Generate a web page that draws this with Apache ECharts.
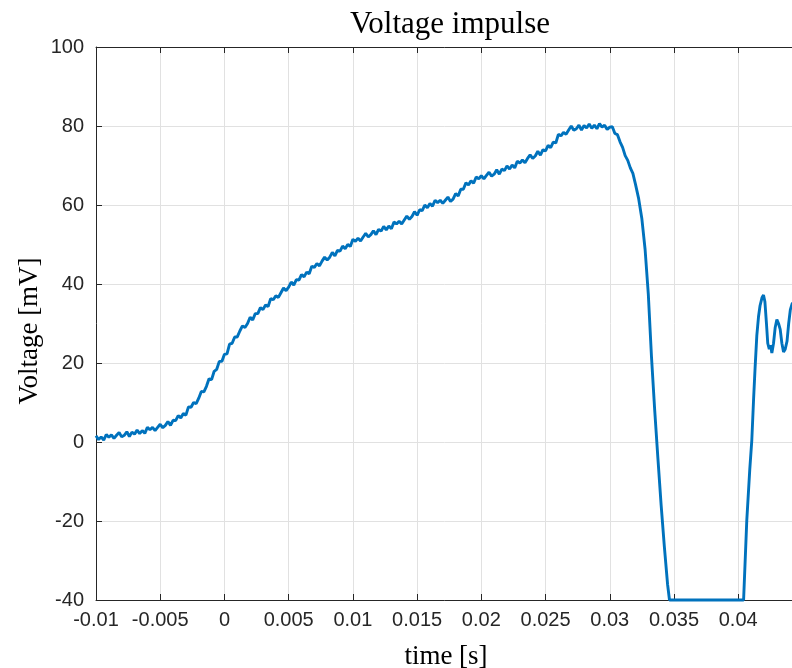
<!DOCTYPE html>
<html>
<head>
<meta charset="utf-8">
<script src="https://cdn.jsdelivr.net/npm/echarts@6/dist/echarts.min.js"></script>
<style>
html,body{margin:0;padding:0;background:#fff;}
#chart{width:792px;height:668px;}
</style>
</head>
<body>
<div id="chart"></div>
<script>
// time in milliseconds (converted to seconds for the axis)
var timeMs = [
-10,-9.8,-9.6,-9.4,-9.2,-9,-8.8,-8.6,-8.4,-8.2,-8,-7.8,-7.6,-7.4,-7.2,-7,-6.8,-6.6,-6.4,-6.2,
-6,-5.8,-5.6,-5.4,-5.2,-5,-4.8,-4.6,-4.4,-4.2,-4,-3.8,-3.6,-3.4,-3.2,-3,-2.8,-2.6,-2.4,-2.2,
-2,-1.8,-1.6,-1.4,-1.2,-1,-0.8,-0.6,-0.4,-0.2,0,0.2,0.4,0.6,0.8,1,1.2,1.4,1.6,1.8,
2,2.2,2.4,2.6,2.8,3,3.2,3.4,3.6,3.8,4,4.2,4.4,4.6,4.8,5,5.2,5.4,5.6,5.8,
6,6.2,6.4,6.6,6.8,7,7.2,7.4,7.6,7.8,8,8.2,8.4,8.6,8.8,9,9.2,9.4,9.6,9.8,
10,10.2,10.4,10.6,10.8,11,11.2,11.4,11.6,11.8,12,12.2,12.4,12.6,12.8,13,13.2,13.4,13.6,13.8,
14,14.2,14.4,14.6,14.8,15,15.2,15.4,15.6,15.8,16,16.2,16.4,16.6,16.8,17,17.2,17.4,17.6,17.8,
18,18.2,18.4,18.6,18.8,19,19.2,19.4,19.6,19.8,20,20.2,20.4,20.6,20.8,21,21.2,21.4,21.6,21.8,
22,22.2,22.4,22.6,22.8,23,23.2,23.4,23.6,23.8,24,24.2,24.4,24.6,24.8,25,25.2,25.4,25.6,25.8,
26,26.2,26.4,26.6,26.8,27,27.2,27.4,27.6,27.8,28,28.2,28.4,28.6,28.8,29,29.2,29.4,29.6,29.8,
30,30.2,30.4,30.6,30.8,31,31.2,31.4,31.6,31.8,32,32.25,32.5,32.75,33,33.25,33.5,33.75,34,34.25,
34.5,34.65,37.5,40.42,40.67,40.9,41.06,41.2,41.32,41.45,41.58,41.7,41.85,41.97,42.08,42.2,42.3,42.42,42.52,42.62,
42.75,42.88,43.01,43.14,43.27,43.4,43.53,43.66,43.8,43.93,44.06,44.2,44.5
];
// voltage in mV
var voltageMv = [
1.6,0.6,1.3,0.5,1.9,1.2,1.8,0.9,1.7,2.4,1.3,1.7,2.6,1.4,2.5,2.0,3.0,2.1,2.9,2.2,
3.7,3.1,3.7,2.9,3.7,4.5,3.6,4.2,5.2,4.2,5.5,5.4,6.7,6.1,7.2,6.8,8.9,8.8,10.0,9.7,
11.1,12.8,12.7,14.1,16.0,15.8,17.9,18.4,20.4,20.4,22.2,22.3,24.8,25.0,26.6,26.6,28.1,29.4,29.0,30.0,
31.6,30.9,32.5,32.5,34.0,33.5,34.7,34.3,36.3,36.0,37.0,36.6,37.8,39.0,38.3,39.2,40.5,39.7,41.1,41.0,
42.4,41.8,43.0,42.6,44.5,44.2,45.2,44.6,45.8,46.8,46.1,46.8,48.0,47.1,48.5,48.3,49.6,48.9,50.0,49.5,
51.3,50.8,51.6,50.9,51.9,52.8,51.9,52.5,53.5,52.5,53.8,53.4,54.6,53.7,54.7,54.0,55.7,55.2,55.9,55.2,
56.2,57.2,56.4,57.1,58.3,57.4,58.8,58.6,60.0,59.3,60.4,59.7,61.2,60.6,61.2,60.4,61.2,62.0,60.9,61.5,
62.9,62.3,64.0,64.0,65.6,65.1,66.1,65.5,67.1,66.6,67.4,66.6,67.5,68.3,67.3,67.8,68.9,67.8,69.1,68.7,
69.9,69.1,70.1,69.4,71.1,70.6,71.4,70.7,71.8,72.7,71.8,72.4,73.6,72.6,74.0,73.7,75.1,74.5,75.9,75.7,
77.9,77.5,78.4,77.9,79.0,80.0,78.9,79.3,80.2,79.0,80.1,79.5,80.5,79.4,80.2,79.3,80.6,79.7,80.2,79.1,
79.7,79.8,78.1,77.8,76.0,74.6,72.5,71.3,69.4,68.0,65.3,61.6,56.5,48.8,37.5,21.5,8.0,-4.2,-16.0,-26.5,
-36.0,-40,-40,-40,-19.7,-7,0.5,11,19.1,27,31.7,34.5,36.5,37.2,35.5,30,25,23.5,24.5,22.5,
25,29,31,30,28.5,25,22.8,23.5,25.5,30,33.5,35,36
];
var xRange = [-0.01, 0.0445];
var xStep = 0.005;
var yRange = [-40, 100];
var yStep = 20;
var titleText = 'Voltage impulse';
var xName = 'time [s]';
var yName = 'Voltage [mV]';

var seriesData = timeMs.map(function (t, i) { return [t / 1000, voltageMv[i]]; });

var axisColor = '#262626';
var tickFont = '"Liberation Sans", Arial, sans-serif';
var serif = '"Liberation Serif", "DejaVu Serif", serif';

var chart = echarts.init(document.getElementById('chart'));
chart.setOption({
  animation: false,
  backgroundColor: '#ffffff',
  grid: { left: 96, top: 47, bottom: 68, right: -4, containLabel: false, outerBoundsMode: 'none' },
  graphic: [{
    type: 'text', x: 450, y: 25,
    style: { text: titleText, font: '31px ' + serif, fill: '#000', textAlign: 'center', textVerticalAlign: 'middle' }
  }, {
    type: 'text', x: 30, y: 331, rotation: Math.PI / 2,
    style: { text: yName, font: '27px ' + serif, fill: '#000', textAlign: 'center', textVerticalAlign: 'middle' }
  }],
  xAxis: [{
    type: 'value', min: xRange[0], max: xRange[1], interval: xStep,
    name: xName, nameLocation: 'middle', nameGap: 43,
    nameTextStyle: { fontFamily: serif, fontSize: 27, color: '#000' },
    axisLine: { show: true, onZero: false, lineStyle: { color: axisColor, width: 1 } },
    axisTick: { show: true, inside: true, length: 6, lineStyle: { color: axisColor } },
    axisLabel: { fontFamily: tickFont, fontSize: 20, color: axisColor, margin: 10, showMaxLabel: false,
      formatter: function (v) { return String(+(+v).toFixed(4)); } },
    splitLine: { show: true, lineStyle: { color: '#e1e1e1', width: 1 } }
  }, {
    type: 'value', position: 'top', min: xRange[0], max: xRange[1], interval: xStep,
    axisLine: { show: true, onZero: false, lineStyle: { color: axisColor, width: 1 } },
    axisTick: { show: true, inside: true, length: 6, lineStyle: { color: axisColor } },
    axisLabel: { show: false }, splitLine: { show: false }
  }],
  yAxis: [{
    type: 'value', min: yRange[0], max: yRange[1], interval: yStep,
    axisLine: { show: true, onZero: false, lineStyle: { color: axisColor, width: 1 } },
    axisTick: { show: true, inside: true, length: 6, lineStyle: { color: axisColor } },
    axisLabel: { fontFamily: tickFont, fontSize: 20, color: axisColor, margin: 12 },
    splitLine: { show: true, lineStyle: { color: '#e1e1e1', width: 1 } }
  }],
  series: [{
    type: 'line', data: seriesData, showSymbol: false, symbol: 'none',
    clip: false, smooth: false,
    lineStyle: { color: '#0072BD', width: 2.9 }
  }]
});
</script>
</body>
</html>
